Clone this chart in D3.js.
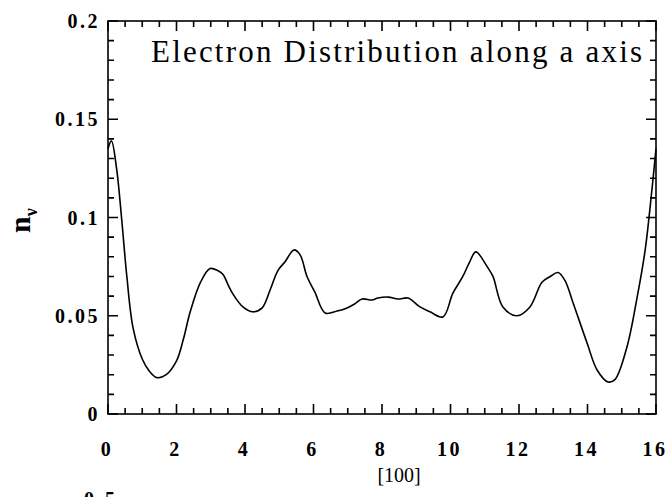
<!DOCTYPE html>
<html>
<head>
<meta charset="utf-8">
<script src="https://cdn.jsdelivr.net/npm/d3@7"></script>
<style>
  body { margin: 0; background: #fff; }
  text { font-family: "Liberation Serif", "Times New Roman", serif; fill: #000; }
</style>
</head>
<body>
<div id="chart"></div>
<script>
// position along [100] and electron density
var positions = [0, 0.1, 0.25, 0.4, 0.55, 0.73, 1.0, 1.2, 1.43, 1.7, 2.0, 2.2, 2.4, 2.7, 2.98,
    3.2, 3.36, 3.5, 3.65, 3.94, 4.23, 4.5, 4.73, 4.96, 5.17, 5.43, 5.61, 5.81, 6.04, 6.34,
    6.69, 6.98, 7.2, 7.42, 7.71, 7.88, 8.18, 8.47, 8.76, 9.11, 9.4, 9.78, 10.07, 10.36,
    10.55, 10.74, 11.07, 11.24, 11.53, 11.94, 12.32, 12.67, 12.91, 13.14, 13.34, 13.58,
    13.99, 14.28, 14.6, 14.8, 15.15, 15.45, 15.68, 15.88, 16.0];
var density = [0.135, 0.139, 0.125, 0.099, 0.070, 0.044, 0.028, 0.022, 0.0185, 0.020, 0.027,
    0.038, 0.052, 0.067, 0.074, 0.073, 0.071, 0.066, 0.061, 0.0545, 0.052, 0.054, 0.063,
    0.073, 0.0775, 0.0835, 0.081, 0.070, 0.062, 0.0514, 0.0524, 0.054, 0.056, 0.0585, 0.058,
    0.059, 0.0595, 0.0585, 0.059, 0.0545, 0.052, 0.0494, 0.0615, 0.070, 0.077, 0.0825, 0.075,
    0.070, 0.0545, 0.050, 0.0545, 0.067, 0.070, 0.072, 0.068, 0.0565, 0.036, 0.0224, 0.0163,
    0.0175, 0.034, 0.0595, 0.083, 0.114, 0.135];

var xTickLabels = ["0", "2", "4", "6", "8", "10", "12", "14", "16"];
var yTickValues = [0, 0.05, 0.1, 0.15, 0.2];
var yTickLabels = ["0", "0.05", "0.1", "0.15", "0.2"];

var width = 666, height = 497;
var margin = {top: 21, bottom: 83, left: 108, right: 10};

var svg = d3.select("#chart").append("svg")
            .attr("width", width)
            .attr("height", height);

var x = d3.scaleLinear()
          .domain([0, 16])
          .range([margin.left, width - margin.right]);
var y = d3.scaleLinear()
          .domain([0, 0.2])
          .range([height - margin.bottom, margin.top]);

var minorX = d3.range(0, 33).map(i => i * 0.5),
    minorY = d3.range(0, 21).map(i => i * 0.01);

var bigTick = 10, smallTick = 6;

// frame
svg.append("rect")
   .attr("x", x(0)).attr("y", y(0.2))
   .attr("width", x(16) - x(0)).attr("height", y(0) - y(0.2))
   .attr("fill", "none").attr("stroke", "#000").attr("stroke-width", 1.6);

// inward ticks on all four sides, one path
var tickPath = d3.path();
minorX.forEach(function(v, i) {
    var len = (i % 4 === 0) ? bigTick : smallTick;
    tickPath.moveTo(x(v), y(0)); tickPath.lineTo(x(v), y(0) - len);
    tickPath.moveTo(x(v), y(0.2)); tickPath.lineTo(x(v), y(0.2) + len);
});
minorY.forEach(function(v, i) {
    var len = (i % 5 === 0) ? bigTick : smallTick;
    tickPath.moveTo(x(0), y(v)); tickPath.lineTo(x(0) + len, y(v));
    tickPath.moveTo(x(16), y(v)); tickPath.lineTo(x(16) - len, y(v));
});
svg.append("path")
   .attr("d", tickPath.toString())
   .attr("fill", "none")
   .attr("stroke", "#000")
   .attr("stroke-width", 1.6);

// tick labels
svg.selectAll(".xlab").data(xTickLabels).enter().append("text")
   .attr("class", "xlab")
   .attr("x", d => x(+d) - 1)
   .attr("y", y(0) + 42)
   .attr("text-anchor", "middle")
   .attr("font-size", "20px")
   .attr("font-weight", "bold")
   .style("letter-spacing", "2.5px")
   .text(d => d);

svg.selectAll(".ylab").data(yTickValues).enter().append("text")
   .attr("class", "ylab")
   .attr("x", x(0) - 8)
   .attr("y", d => y(d))
   .attr("dy", "0.35em")
   .attr("text-anchor", "end")
   .attr("font-size", "20px")
   .attr("font-weight", "bold")
   .style("letter-spacing", "2.5px")
   .text((d, i) => yTickLabels[i]);

// axis titles
svg.append("text")
   .attr("x", x(8.5))
   .attr("y", y(0) + 68)
   .attr("text-anchor", "middle")
   .attr("font-size", "20px")
   .text("[100]");

var yTitle = svg.append("text")
   .attr("transform", "translate(30," + 233 + ") rotate(-90)")
   .attr("font-size", "30px")
   .attr("font-weight", "bold");
yTitle.append("tspan").text("n");
yTitle.append("tspan").attr("dy", 7).attr("font-size", "18px").text("ν");

// chart title inside the frame
svg.append("text")
   .attr("x", 151)
   .attr("y", 62)
   .attr("font-size", "31px")
   .style("letter-spacing", "2.2px")
   .text("Electron Distribution along a axis");

// stray label cut off at the bottom of the page
svg.append("text")
   .attr("x", 84)
   .attr("y", 506)
   .attr("font-size", "20px")
   .attr("font-weight", "bold")
   .style("letter-spacing", "3px")
   .text("0.5");

// density curve
var line = d3.line()
             .x((d, i) => x(positions[i]))
             .y(d => y(d))
             .curve(d3.curveCatmullRom.alpha(0.5));

svg.append("path")
   .datum(density)
   .attr("d", line)
   .attr("fill", "none")
   .attr("stroke", "#000")
   .attr("stroke-width", 1.6);
</script>
</body>
</html>
